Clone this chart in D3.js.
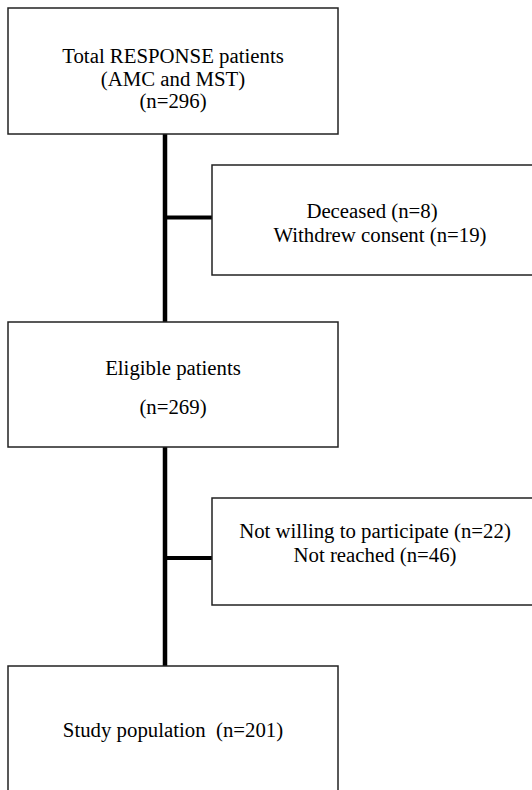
<!DOCTYPE html>
<html>
<head>
<meta charset="utf-8">
<script src="https://cdn.jsdelivr.net/npm/d3@7"></script>
<style>
  body { margin: 0; background: #fff; }
  text { font-family: "Liberation Serif", "Times New Roman", serif; font-size: 20.8px; fill: #000; white-space: pre; }
</style>
</head>
<body>
<div id="chart"></div>
<script>
// flow steps
var mainLabels = [["Total RESPONSE patients", "(AMC and MST)"], ["Eligible patients", ""], ["Study population  "]];
var mainCounts = [296, 269, 201];
var exclReasons = [["Deceased", "Withdrew consent"], ["Not willing to participate", "Not reached"]];
var exclCounts = [[8, 19], [22, 46]];

var w = 532, h = 790;
var svg = d3.select("#chart")
  .append("svg")
  .attr("width", w)
  .attr("height", h)
  .attr("xmlns", "http://www.w3.org/2000/svg");

// layout
var mainX = 8, mainW = 330;
var mainTop = [8, 322, 666];
var mainH = [126, 125, 150];
var mainBase = [[55, 78, 100], [53, 92], [71]];
var trunkX = 165;
var sideX = 212, sideW = 330;
var sideTop = [165, 498];
var sideH = [110, 107];
var sideLink = [217.5, 558];
var sideBase = [[53, 77], [40, 64]];
var sideCx = [[372, 380], [375, 375]];

// build text lines for each main box
var mainLines = mainLabels.map(function(l, i) {
  var n = "(n=" + mainCounts[i] + ")";
  if (i == 0) return [l[0], l[1], n];
  if (i == 1) return [l[0], n];
  return [l[0] + n];
});

// trunk line
svg.append("line")
  .attr("x1", trunkX).attr("x2", trunkX)
  .attr("y1", mainTop[0] + mainH[0]).attr("y2", mainTop[2])
  .attr("stroke", "#000").attr("stroke-width", 4.5);

svg.selectAll(".link").data(sideLink).enter()
  .append("line")
  .attr("x1", trunkX).attr("x2", sideX)
  .attr("y1", function(d) {return d;}).attr("y2", function(d) {return d;})
  .attr("stroke", "#000").attr("stroke-width", 4);

var mg = svg.selectAll(".main").data(mainLines).enter()
  .append("g")
  .attr("transform", function(d, i) {return "translate(" + mainX + "," + mainTop[i] + ")";});
mg.append("rect")
  .attr("width", mainW)
  .attr("height", function(d, i) {return mainH[i];})
  .attr("fill", "#fff").attr("stroke", "#222").attr("stroke-width", 1.5);
mg.each(function(lines, i) {
  d3.select(this).selectAll("text").data(lines).enter()
    .append("text")
    .attr("x", mainW / 2)
    .attr("y", function(d, j) {return mainBase[i][j];})
    .attr("text-anchor", "middle")
    .text(function(d) {return d;});
});

var sg = svg.selectAll(".side").data(exclReasons).enter()
  .append("g")
  .attr("transform", function(d, i) {return "translate(" + sideX + "," + sideTop[i] + ")";});
sg.append("rect")
  .attr("width", sideW)
  .attr("height", function(d, i) {return sideH[i];})
  .attr("fill", "#fff").attr("stroke", "#222").attr("stroke-width", 1.5);
sg.each(function(reasons, i) {
  d3.select(this).selectAll("text").data(reasons).enter()
    .append("text")
    .attr("x", function(d, j) {return sideCx[i][j] - sideX;})
    .attr("y", function(d, j) {return sideBase[i][j];})
    .attr("text-anchor", "middle")
    .text(function(d, j) {return d + " (n=" + exclCounts[i][j] + ")";});
});
</script>
</body>
</html>
